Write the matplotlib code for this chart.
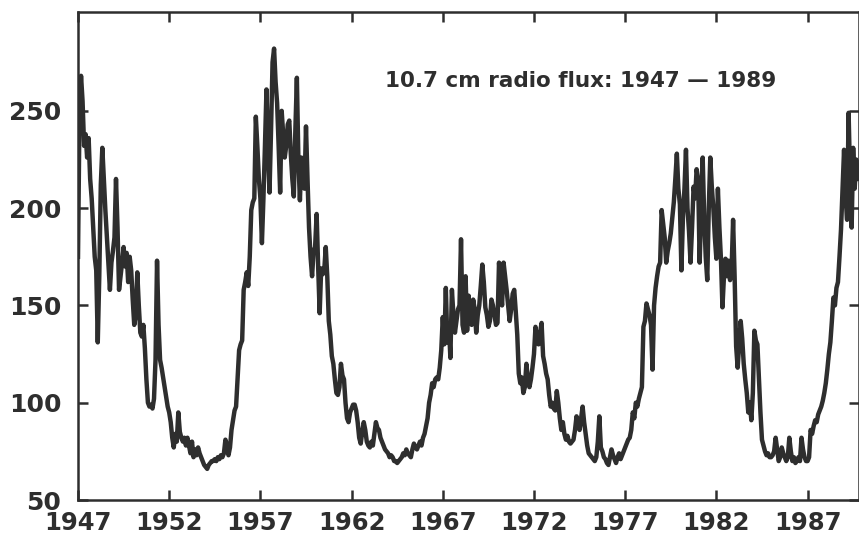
import numpy as np
import matplotlib
matplotlib.use("Agg")
import matplotlib.pyplot as plt

# Monthly 10.7 cm radio flux values (start Jan 1947)
flux_1940s = [
    175, 250, 268, 255, 232, 238, 226, 236, 215, 205, 190, 175,   # 1947
    168, 131, 165, 212, 231, 215, 199, 185, 170, 158, 172, 178,   # 1948
    185, 215, 190, 158, 165, 172, 180, 170, 177, 162, 175, 168,   # 1949
]
flux_1950s = [
    153, 140, 145, 167, 150, 136, 134, 140, 128, 112, 100, 98,    # 1950
    99, 97, 102, 122, 173, 140, 122, 118, 113, 108, 103, 98,      # 1951
    95, 90, 82, 77, 84, 80, 95, 85, 82, 80, 82, 78,               # 1952
    82, 78, 74, 80, 72, 76, 73, 77, 74, 72, 70, 68,               # 1953
    67, 66, 68, 69, 70, 70, 71, 70, 72, 71, 73, 72,               # 1954
    74, 81, 78, 73, 77, 86, 91, 96, 98, 112, 127, 130,            # 1955
    132, 158, 162, 167, 160, 175, 199, 203, 205, 247, 232, 215,   # 1956
    205, 182, 205, 232, 261, 230, 208, 240, 275, 282, 265, 254,   # 1957
    232, 208, 250, 238, 226, 232, 243, 245, 228, 215, 206, 240,   # 1958
    267, 225, 204, 226, 215, 210, 242, 215, 190, 175, 165, 178,   # 1959
]
flux_1960s = [
    180, 197, 170, 146, 169, 166, 168, 180, 165, 142, 135, 124,   # 1960
    120, 112, 105, 104, 108, 120, 114, 112, 100, 92, 90, 95,      # 1961
    97, 99, 99, 96, 90, 82, 79, 85, 90, 86, 80, 78,               # 1962
    77, 80, 78, 84, 90, 87, 86, 82, 80, 78, 76, 75,               # 1963
    74, 72, 73, 72, 70, 70, 69, 70, 71, 72, 74, 73,               # 1964
    76, 74, 73, 72, 76, 79, 77, 76, 78, 80, 78, 82,               # 1965
    84, 88, 92, 100, 104, 110, 108, 112, 113, 112, 118, 127,      # 1966
    144, 130, 159, 131, 140, 123, 158, 145, 136, 142, 148, 150,   # 1967
    184, 140, 136, 165, 137, 155, 144, 140, 153, 148, 136, 145,   # 1968
    150, 160, 171, 162, 149, 145, 139, 142, 153, 150, 145, 140,   # 1969
]
flux_1970s = [
    141, 172, 160, 150, 172, 165, 158, 150, 142, 148, 156, 158,   # 1970
    147, 135, 115, 110, 113, 105, 108, 120, 112, 108, 112, 118,   # 1971
    125, 139, 132, 130, 136, 141, 124, 120, 115, 112, 104, 98,    # 1972
    100, 97, 96, 106, 100, 92, 86, 90, 84, 81, 83, 80,            # 1973
    79, 80, 81, 86, 93, 88, 86, 92, 98, 90, 84, 78,               # 1974
    74, 73, 72, 71, 70, 72, 80, 93, 77, 75, 72, 71,               # 1975
    69, 68, 72, 76, 73, 71, 69, 72, 74, 71, 73, 75,               # 1976
    77, 79, 81, 82, 86, 95, 92, 100, 98, 102, 105, 108,           # 1977
    139, 142, 151, 148, 145, 140, 117, 150, 159, 165, 170, 172,   # 1978
    199, 192, 185, 172, 178, 182, 187, 195, 203, 215, 228, 210,   # 1979
]
flux_1980s = [
    202, 168, 195, 210, 230, 200, 188, 172, 190, 211, 205, 220,   # 1980
    215, 172, 200, 226, 195, 175, 163, 200, 226, 211, 200, 185,   # 1981
    174, 210, 190, 174, 149, 165, 174, 165, 173, 163, 168, 194,   # 1982
    165, 129, 118, 130, 142, 133, 120, 112, 105, 95, 100, 91,     # 1983
    105, 137, 132, 130, 112, 95, 81, 78, 75, 73, 74, 72,          # 1984
    72, 73, 75, 82, 76, 70, 72, 77, 74, 72, 70, 72,               # 1985
    82, 75, 70, 72, 69, 70, 72, 70, 82, 76, 72, 70,               # 1986
    70, 72, 86, 84, 88, 91, 90, 94, 96, 98, 101, 105,             # 1987
    110, 117, 125, 131, 142, 154, 150, 159, 162, 175, 189, 209,   # 1988
    230, 206, 194, 249, 215, 190, 231, 210, 225, 215,             # 1989
]

start_year = 1947
x_ticks = [1947, 1952, 1957, 1962, 1967, 1972, 1977, 1982, 1987]
y_ticks = [50, 100, 150, 200, 250]
title_text = "10.7 cm radio flux: 1947 \u2014 1989"

flux = np.array(flux_1940s + flux_1950s + flux_1960s + flux_1970s + flux_1980s, dtype=float)
t = start_year + np.arange(len(flux)) / 12.0

ink = "#2e2e2e"
fig = plt.figure(figsize=(8.59, 5.40), dpi=100)
ax = fig.add_axes([78 / 859, 40 / 540, 781 / 859, 488 / 540])

ax.plot(t, flux, color=ink, lw=3.2, solid_joinstyle="round", zorder=2)

ax.set_xlim(1947, 1989.82)
ax.set_ylim(50, 300.8)
ax.set_xticks(x_ticks)
ax.set_yticks(y_ticks)

for s in ax.spines.values():
    s.set_linewidth(1.8)
    s.set_color(ink)
    s.set_zorder(3)

ax.tick_params(which="major", direction="in", length=7, width=1.8, color=ink,
               top=True, right=True, bottom=True, left=True,
               labelsize=18, labelcolor=ink)
ax.tick_params(axis="x", pad=8, labelsize=17.5)
ax.tick_params(axis="y", pad=12)
for lab in ax.get_xticklabels() + ax.get_yticklabels():
    lab.set_fontweight("bold")
    lab.set_family("DejaVu Sans")

ax.text((385 - 78) / 781, (500 - 81) / 488, title_text, transform=ax.transAxes,
        ha="left", va="center", fontsize=15.5, fontweight="bold", color=ink,
        family="DejaVu Sans")

fig.savefig("out.png", dpi=100)
